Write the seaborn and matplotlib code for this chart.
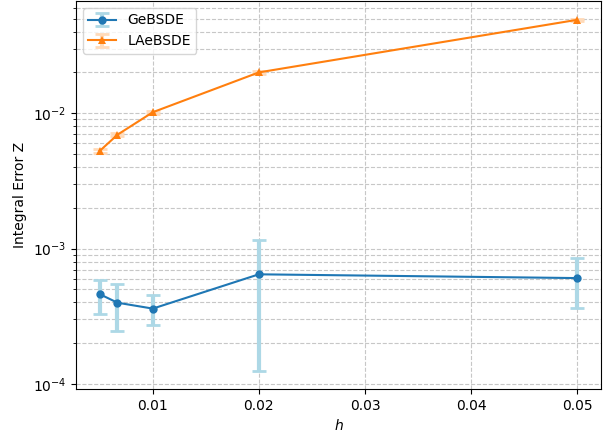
import matplotlib
matplotlib.use('Agg')
import matplotlib.pyplot as plt
import seaborn as sns
import pandas as pd
from matplotlib.legend_handler import HandlerTuple

# step sizes
h = [0.005, 0.00667, 0.01, 0.02, 0.05]

# GeBSDE: mean error, lower / upper end of the error bar
ge_mean = [4.6e-4, 3.98e-4, 3.6e-4, 6.45e-4, 6.05e-4]
ge_low = [3.26e-4, 2.47e-4, 2.72e-4, 1.24e-4, 3.66e-4]
ge_high = [5.9e-4, 5.5e-4, 4.5e-4, 1.16e-3, 8.55e-4]

# LAeBSDE: mean error, lower / upper end of the error bar
la_mean = [5.26e-3, 6.93e-3, 1.016e-2, 2.0e-2, 4.89e-2]
la_low = [5.1e-3, 6.75e-3, 9.9e-3, 1.95e-2, 4.78e-2]
la_high = [5.42e-3, 7.1e-3, 1.04e-2, 2.05e-2, 5.0e-2]

df = pd.DataFrame({
    'h': h * 2,
    'err': ge_mean + la_mean,
    'method': ['GeBSDE'] * len(h) + ['LAeBSDE'] * len(h),
})

fig, ax = plt.subplots(figsize=(6.12, 4.36), dpi=100)
fig.subplots_adjust(left=0.124, right=0.982, top=0.998, bottom=0.108)

# error bars first so the lines sit on top
ge_yerr = [[m - lo for m, lo in zip(ge_mean, ge_low)], [hi - m for m, hi in zip(ge_mean, ge_high)]]
la_yerr = [[m - lo for m, lo in zip(la_mean, la_low)], [hi - m for m, hi in zip(la_mean, la_high)]]
eb1 = ax.errorbar(h, ge_mean, yerr=ge_yerr, fmt='none', ecolor='lightblue',
                  elinewidth=3, capsize=5, capthick=2)
eb2 = ax.errorbar(h, la_mean, yerr=la_yerr, fmt='none', ecolor='peachpuff',
                  elinewidth=3, capsize=5, capthick=2)

sns.lineplot(data=df, x='h', y='err', hue='method', style='method',
             markers={'GeBSDE': 'o', 'LAeBSDE': '^'}, dashes=False,
             palette={'GeBSDE': '#1f77b4', 'LAeBSDE': '#ff7f0e'},
             markersize=6, markeredgewidth=0, linewidth=1.5, ax=ax, legend=False)

ax.set_yscale('log')
ax.grid(True, which='both', linestyle='--', color='#b0b0b0', linewidth=0.8, alpha=0.7)
ax.set_xlabel('$h$')
ax.set_ylabel('Integral Error Z')
ax.set_xticks([0.01, 0.02, 0.03, 0.04, 0.05])

lines = ax.get_lines()
ge_line = [l for l in lines if l.get_marker() == 'o'][0]
la_line = [l for l in lines if l.get_marker() == '^'][0]
ax.legend([(eb1, ge_line), (eb2, la_line)], ['GeBSDE', 'LAeBSDE'],
          handler_map={tuple: HandlerTuple(ndivide=1)}, loc='upper left')

fig.savefig('out.png', dpi=100)
